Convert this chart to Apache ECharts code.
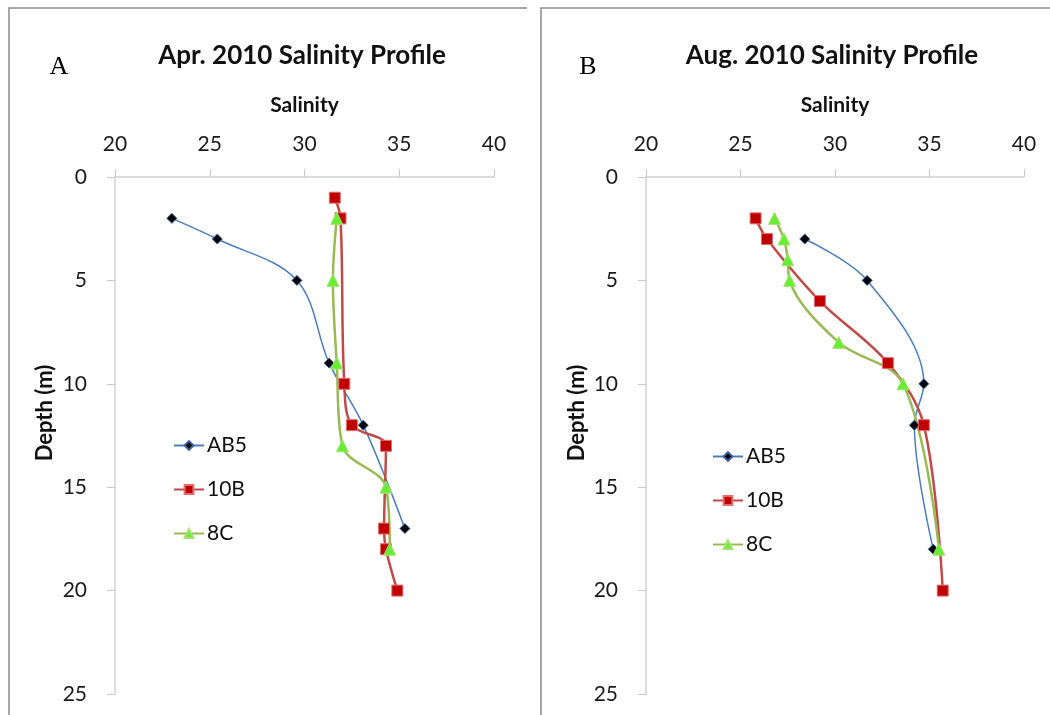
<!DOCTYPE html>
<html>
<head>
<meta charset="utf-8">
<script src="https://cdn.jsdelivr.net/npm/echarts@6/dist/echarts.min.js"></script>
<style>
  html, body { margin: 0; padding: 0; background: #fff; }
  #chart { width: 1050px; height: 715px; }
</style>
</head>
<body>
<div id="chart"></div>
<script>
// Salinity profiles, April and August 2010: [salinity, depth (m)] per station
const aprAB5 = [[23.0, 2], [25.4, 3], [29.6, 5], [31.3, 9], [33.1, 12], [35.3, 17]];
const apr10B = [[31.6, 1], [31.9, 2], [32.1, 10], [32.5, 12], [34.3, 13], [34.2, 17], [34.3, 18], [34.9, 20]];
const apr8C  = [[31.7, 2], [31.5, 5], [31.7, 9], [32.0, 13], [34.3, 15], [34.5, 18]];

const augAB5 = [[28.4, 3], [31.7, 5], [34.7, 10], [34.2, 12], [35.2, 18]];
const aug10B = [[25.8, 2], [26.4, 3], [29.2, 6], [32.8, 9], [34.7, 12], [35.7, 20]];
const aug8C  = [[26.8, 2], [27.3, 3], [27.5, 4], [27.6, 5], [30.2, 8], [33.6, 10], [35.5, 18]];

const stationNames = ['AB5', '10B', '8C'];
const panelTitles = ['Apr. 2010 Salinity Profile', 'Aug. 2010 Salinity Profile'];
const panelLetters = ['A', 'B'];
const xTitle = 'Salinity';
const yTitle = 'Depth (m)';

const FONT = 'Lato';

const styles = {
  'AB5': { line: '#4A7EBB', width: 1.5, symbol: 'diamond', size: 10, fill: '#000000', border: '#3A5F9A' },
  '10B': { line: '#BE4B48', width: 2.5, symbol: 'rect', size: 11, fill: '#C00000', border: '#E07070' },
  '8C':  { line: '#98B954', width: 2.5, symbol: 'triangle', size: 12, fill: '#66EE33', border: '#A8E070' }
};

function makeSeries(name, data, idx) {
  const s = styles[name];
  return {
    name: name,
    type: 'line',
    xAxisIndex: idx,
    yAxisIndex: idx,
    data: data,
    smooth: 0.35,
    symbol: s.symbol,
    symbolSize: s.size,
    showAllSymbol: true,
    lineStyle: { color: s.line, width: s.width },
    itemStyle: { color: s.fill, borderColor: s.border, borderWidth: 1 },
    emphasis: { disabled: true },
    z: 3
  };
}

const xAxisBase = (idx) => ({
  gridIndex: idx,
  type: 'value',
  position: 'top',
  min: 20, max: 40, interval: 5,
  name: xTitle,
  nameLocation: 'middle',
  nameGap: 61,
  nameTextStyle: { fontFamily: FONT, fontWeight: 'bold', fontSize: 21, color: '#111' },
  axisLine: { show: true, lineStyle: { color: '#D0D0D0', width: 1.5 } },
  axisTick: { show: true, length: 8, lineStyle: { color: '#C8C8C8' } },
  axisLabel: { fontFamily: FONT, fontSize: 21, color: '#1a1a1a', margin: 22 },
  splitLine: { show: false }
});

const yAxisBase = (idx) => ({
  gridIndex: idx,
  type: 'value',
  inverse: true,
  min: 0, max: 25, interval: 5,
  axisLine: { show: true, lineStyle: { color: '#D0D0D0', width: 1.5 } },
  axisTick: { show: true, length: 8, lineStyle: { color: '#C8C8C8' } },
  axisLabel: { fontFamily: FONT, fontSize: 21, color: '#1a1a1a', margin: 28 },
  splitLine: { show: false }
});

const legendBase = (left, top) => ({
  data: stationNames.map(n => ({ name: n })),
  orient: 'vertical', left: left, top: top, padding: 0,
  itemWidth: 30, itemHeight: 11, itemGap: 23,
  textStyle: { fontFamily: FONT, fontSize: 21, color: '#111', padding: [0, 0, 0, -2] },
  selectedMode: false
});

const option = {
  animation: false,
  backgroundColor: '#ffffff',
  title: [
    { text: panelTitles[0], left: 297, top: 38, textAlign: 'center',
      textStyle: { fontFamily: FONT, fontWeight: 'bold', fontSize: 26, color: '#111' } },
    { text: panelTitles[1], left: 827, top: 38, textAlign: 'center',
      textStyle: { fontFamily: FONT, fontWeight: 'bold', fontSize: 26, color: '#111' } }
  ],
  grid: [
    { left: 115, top: 177, width: 379, height: 517 },
    { left: 646, top: 177, width: 378, height: 517 }
  ],
  xAxis: [xAxisBase(0), xAxisBase(1)],
  yAxis: [yAxisBase(0), yAxisBase(1)],
  legend: [legendBase(173, 435), legendBase(712, 446)],
  graphic: [
    // panel frames (top and left edges)
    { type: 'polyline', shape: { points: [[9, 715], [9, 8], [527, 8]] },
      style: { stroke: '#8C8C8C', lineWidth: 1.5, fill: null }, silent: true },
    { type: 'polyline', shape: { points: [[541, 715], [541, 8], [1050, 8]] },
      style: { stroke: '#8C8C8C', lineWidth: 1.5, fill: null }, silent: true },
    // panel letters
    { type: 'text', x: 59, y: 67, style: { text: panelLetters[0], font: '26px "Liberation Serif"', fill: '#000', align: 'center', verticalAlign: 'middle' } },
    { type: 'text', x: 588, y: 67, style: { text: panelLetters[1], font: '26px "Liberation Serif"', fill: '#000', align: 'center', verticalAlign: 'middle' } },
    // depth axis titles
    { type: 'text', x: 45, y: 413, rotation: Math.PI / 2,
      style: { text: yTitle, font: 'bold 22px Lato', fill: '#111', align: 'center', verticalAlign: 'middle' } },
    { type: 'text', x: 577, y: 413, rotation: Math.PI / 2,
      style: { text: yTitle, font: 'bold 22px Lato', fill: '#111', align: 'center', verticalAlign: 'middle' } }
  ],
  series: [
    makeSeries('AB5', aprAB5, 0),
    makeSeries('10B', apr10B, 0),
    makeSeries('8C', apr8C, 0),
    makeSeries('AB5', augAB5, 1),
    makeSeries('10B', aug10B, 1),
    makeSeries('8C', aug8C, 1)
  ]
};

const chart = echarts.init(document.getElementById('chart'), null, { renderer: 'canvas' });
chart.setOption(option);
</script>
</body>
</html>
